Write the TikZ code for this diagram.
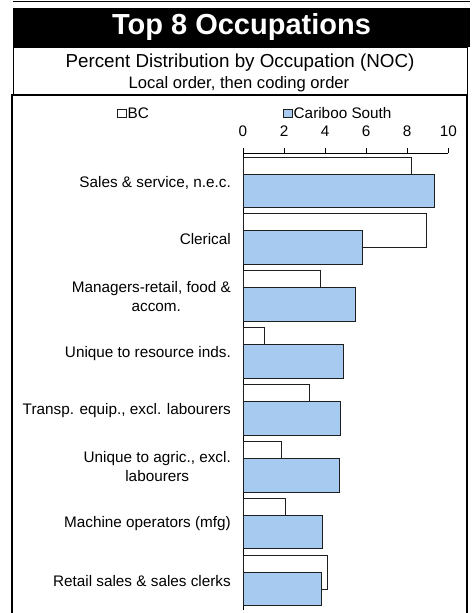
\documentclass[tikz,border=0pt]{standalone}
\usepackage{fontspec}
\setmainfont{Liberation Sans}
\usepackage[dvipsnames]{xcolor}
\usetikzlibrary{positioning,calc}

\definecolor{cariboo}{RGB}{166,202,240}
\definecolor{barline}{RGB}{30,30,30}
\tikzset{
  bcbar/.style={draw=barline, line width=1pt, fill=white},
  cbbar/.style={draw=barline, line width=1pt, fill=cariboo},
  occlabel/.style={anchor=east, align=center, inner sep=0pt, font=\fontsize{15.3}{19}\selectfont},
  ticklabel/.style={inner sep=0pt, font=\fontsize{15.3}{18}\selectfont}
}

\begin{document}
\begin{tikzpicture}[x=1pt, y=-1pt]
			\useasboundingbox[fill=white] (0,0) rectangle (474,613);
			% headings
			\draw[line width=1pt] (13,1) -- (470,1);
			\fill[black] (13,8) rectangle (470,47);
			\node[text=white, font=\bfseries\fontsize{29}{32}\selectfont, inner sep=0pt] (title) at (241.5,27.5) {Top 8 Occupations};
			\draw[line width=0.8pt] (13.5,47) rectangle (467,95);
			\node[font=\fontsize{18.8}{20}\selectfont, inner sep=0pt] (sub) at (240,62.5) {Percent Distribution by Occupation (NOC)};
			\node[font=\fontsize{16.6}{18}\selectfont, inner sep=0pt] (order) at (239,84) {Local order, then coding order};
			\draw[line width=1.6pt] (12,620) -- (12,95) -- (467,95) -- (467,620);
			% legend
			\draw[bcbar, line width=0.9pt] (117.5,109) rectangle (126,117.5);
			\node[ticklabel, anchor=west] (bc) at (127.5,113.5) {BC};
			\draw[cbbar, line width=0.9pt] (283.5,109) rectangle (292,117.5);
			\node[ticklabel, anchor=west] (cs) at (293.5,113.5) {Cariboo South};
			% axis
			\draw[line width=1pt] (243,153.3) -- (448.3,153.3);
			\draw[line width=1pt] (243,148) -- (243,610);
			\draw[line width=1pt] (284.1,148) -- (284.1,153.3);
			\draw[line width=1pt] (325.1,148) -- (325.1,153.3);
			\draw[line width=1pt] (366.2,148) -- (366.2,153.3);
			\draw[line width=1pt] (407.2,148) -- (407.2,153.3);
			\draw[line width=1pt] (448.3,148) -- (448.3,153.3);
			\node[ticklabel] (t0) at (243,131.5) {0};
			\node[ticklabel] (t2) at (284.1,131.5) {2};
			\node[ticklabel] (t4) at (325.1,131.5) {4};
			\node[ticklabel] (t6) at (366.2,131.5) {6};
			\node[ticklabel] (t8) at (407.2,131.5) {8};
			\node[ticklabel] (t10) at (448.3,131.5) {10};
			% bars, BC behind, Cariboo South in front
			\draw[bcbar] (243,157) rectangle (411,191);
			\draw[cbbar] (243,174) rectangle (434,207.5);
			\draw[bcbar] (243,213.9) rectangle (426.7,247.9);
			\draw[cbbar] (243,230.9) rectangle (362,264.4);
			\draw[bcbar] (243,270.8) rectangle (320.7,304.8);
			\draw[cbbar] (243,287.8) rectangle (355,321.3);
			\draw[bcbar] (243,327.7) rectangle (264.3,361.7);
			\draw[cbbar] (243,344.7) rectangle (343,378.2);
			\draw[bcbar] (243,384.6) rectangle (309,418.6);
			\draw[cbbar] (243,401.6) rectangle (340.7,435.1);
			\draw[bcbar] (243,441.5) rectangle (281.7,475.5);
			\draw[cbbar] (243,458.5) rectangle (339,492);
			\draw[bcbar] (243,498.4) rectangle (285,532.4);
			\draw[cbbar] (243,515.4) rectangle (322.7,548.9);
			\draw[bcbar] (243,555.3) rectangle (327.7,589.3);
			\draw[cbbar] (243,572.3) rectangle (321.7,605.8);
			% occupations
			\node[occlabel] (occa) at (231,182.5) {Sales \& service, n.e.c.};
			\node[occlabel] (occb) at (231,239.4) {Clerical};
			\node[occlabel] (occc) at (231,296.3) {Managers-retail, food \&\\ \hspace*{10pt}accom.};
			\node[occlabel] (occd) at (231,353.2) {Unique to resource inds.};
			\node[occlabel] (occe) at (231,410.1) {Transp. equip., excl. labourers};
			\node[occlabel] (occf) at (231,467) {Unique to agric., excl.\\ labourers};
			\node[occlabel] (occg) at (231,523.9) {Machine operators (mfg)};
			\node[occlabel] (occh) at (231,580.8) {Retail sales \& sales clerks};
		\end{tikzpicture}
\end{document}
